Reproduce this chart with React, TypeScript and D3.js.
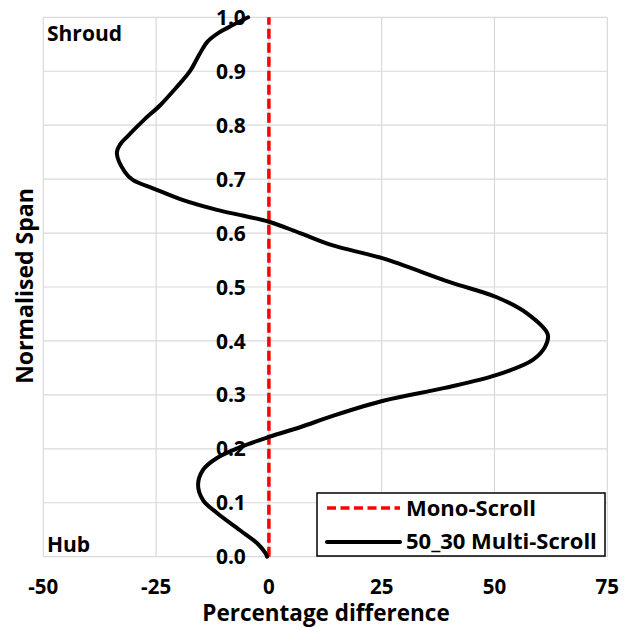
import React from "react";
import * as d3 from "d3";

// Normalised span positions (hub = 0, shroud = 1)
const span = [
  0.0, 0.007, 0.025, 0.049, 0.081, 0.105, 0.133, 0.161, 0.183, 0.203, 0.222,
  0.240, 0.262, 0.290, 0.313, 0.337, 0.365, 0.389, 0.412, 0.451, 0.481, 0.509,
  0.553, 0.577, 0.600, 0.621, 0.632, 0.643, 0.661, 0.683, 0.698, 0.713, 0.748,
  0.764, 0.778, 0.809, 0.837, 0.871, 0.900, 0.933, 0.955, 0.972, 0.986, 1.0,
];
// Percentage difference of the 50_30 multi-scroll relative to the mono-scroll
const multiScroll = [
  -0.4, -0.8, -2.6, -6.4, -11.5, -14.6, -15.7, -14.6, -11.5, -6.4, 0, 6.9,
  14.5, 25.8, 39.0, 50.5, 58.5, 61.2, 61.8, 57.2, 50.5, 40.1, 25.3, 14.2, 6.9,
  0, -5.6, -11.5, -19.0, -25.7, -30.1, -31.9, -33.7, -33.0, -31.5, -27.8,
  -24.1, -20.4, -17.5, -15.3, -13.6, -11.0, -7.9, -4.6,
];
// Mono-scroll baseline (zero difference)
const monoScroll = [0, 0];
const monoSpan = [0, 1];

const xTicks = [-50, -25, 0, 25, 50, 75];
const yTicks = [0, 0.1, 0.2, 0.3, 0.4, 0.5, 0.6, 0.7, 0.8, 0.9, 1.0];
const seriesNames = ["Mono-Scroll", "50_30 Multi-Scroll"];

const FONT = "'Open Sans', 'Liberation Sans', sans-serif";

export default function App() {
  const W = 632;
  const H = 628;
  const left = 43.3;
  const right = 607.3;
  const top = 17.3;
  const bottom = 556.7;

  const x = d3.scaleLinear().domain([-50, 75]).range([left, right]);
  const y = d3.scaleLinear().domain([0, 1]).range([bottom, top]);

  const pts: [number, number][] = span.map((s, i) => [multiScroll[i], s]);
  const line = d3
    .line<[number, number]>()
    .x((d) => x(d[0]))
    .y((d) => y(d[1]))
    .curve(d3.curveCatmullRom.alpha(0.5));

  const monoPts: [number, number][] = monoSpan.map((s, i) => [monoScroll[i], s]);
  const straight = d3
    .line<[number, number]>()
    .x((d) => x(d[0]))
    .y((d) => y(d[1]));

  const lg = { x0: 317, y0: 493, x1: 605, y1: 556 };

  return (
    <svg
      width={W}
      height={H}
      style={{ position: "absolute", left: 0, top: 0, background: "#fff" }}
    >
      <rect x={0} y={0} width={W} height={H} fill="#fff" />
      {/* gridlines */}
      {xTicks.map((t) => (
        <line
          key={"gx" + t}
          x1={x(t)}
          x2={x(t)}
          y1={top}
          y2={bottom}
          stroke="#d9d9d9"
          strokeWidth={1.2}
        />
      ))}
      {yTicks.map((t) => (
        <line
          key={"gy" + t}
          x1={left}
          x2={right}
          y1={y(t)}
          y2={y(t)}
          stroke="#d9d9d9"
          strokeWidth={1.2}
        />
      ))}

      {/* y tick labels sit beside the zero axis */}
      {yTicks.map((t) => (
        <text
          key={"ty" + t}
          x={x(0) - 23}
          y={y(t)}
          dy="0.36em"
          textAnchor="end"
          fontFamily={FONT}
          fontWeight={700}
          fontSize={21}
          fill="#000"
        >
          {t.toFixed(1)}
        </text>
      ))}

      {/* mono-scroll baseline */}
      <path
        d={straight(monoPts) || ""}
        fill="none"
        stroke="#ff0000"
        strokeWidth={3.5}
        strokeDasharray="10 4"
      />

      {/* multi-scroll curve */}
      <path
        d={line(pts) || ""}
        fill="none"
        stroke="#000"
        strokeWidth={4}
        strokeLinejoin="round"
        strokeLinecap="round"
      />

      {/* x tick labels */}
      {xTicks.map((t) => (
        <text
          key={"tx" + t}
          x={x(t)}
          y={587}
          dy="0.36em"
          textAnchor="middle"
          fontFamily={FONT}
          fontWeight={700}
          fontSize={20.5}
          fill="#000"
        >
          {t}
        </text>
      ))}

      <text
        x={47}
        y={33}
        dy="0.36em"
        fontFamily={FONT}
        fontWeight={700}
        fontSize={21}
      >
        Shroud
      </text>
      <text
        x={47}
        y={544}
        dy="0.36em"
        fontFamily={FONT}
        fontWeight={700}
        fontSize={21}
      >
        Hub
      </text>

      {/* axis titles */}
      <text
        x={326}
        y={613}
        dy="0.36em"
        textAnchor="middle"
        fontFamily={FONT}
        fontWeight={700}
        fontSize={22.5}
      >
        Percentage difference
      </text>
      <text
        transform={`translate(25, ${(top + bottom) / 2 - 1}) rotate(-90)`}
        dy="0.36em"
        textAnchor="middle"
        fontFamily={FONT}
        fontWeight={700}
        fontSize={23}
      >
        Normalised Span
      </text>

      {/* legend */}
      <rect
        x={lg.x0}
        y={lg.y0}
        width={lg.x1 - lg.x0}
        height={lg.y1 - lg.y0}
        fill="#fff"
        stroke="#000"
        strokeWidth={1.5}
      />
      <line
        x1={327}
        x2={400}
        y1={508}
        y2={508}
        stroke="#ff0000"
        strokeWidth={3.5}
        strokeDasharray="9 4.5"
      />
      <line
        x1={327}
        x2={400}
        y1={542}
        y2={542}
        stroke="#000"
        strokeWidth={4}
        strokeLinecap="round"
      />
      {seriesNames.map((n, i) => (
        <text
          key={n}
          x={406}
          y={508 + i * 33}
          dy="0.36em"
          fontFamily={FONT}
          fontWeight={700}
          fontSize={22}
        >
          {n}
        </text>
      ))}
    </svg>
  );
}
